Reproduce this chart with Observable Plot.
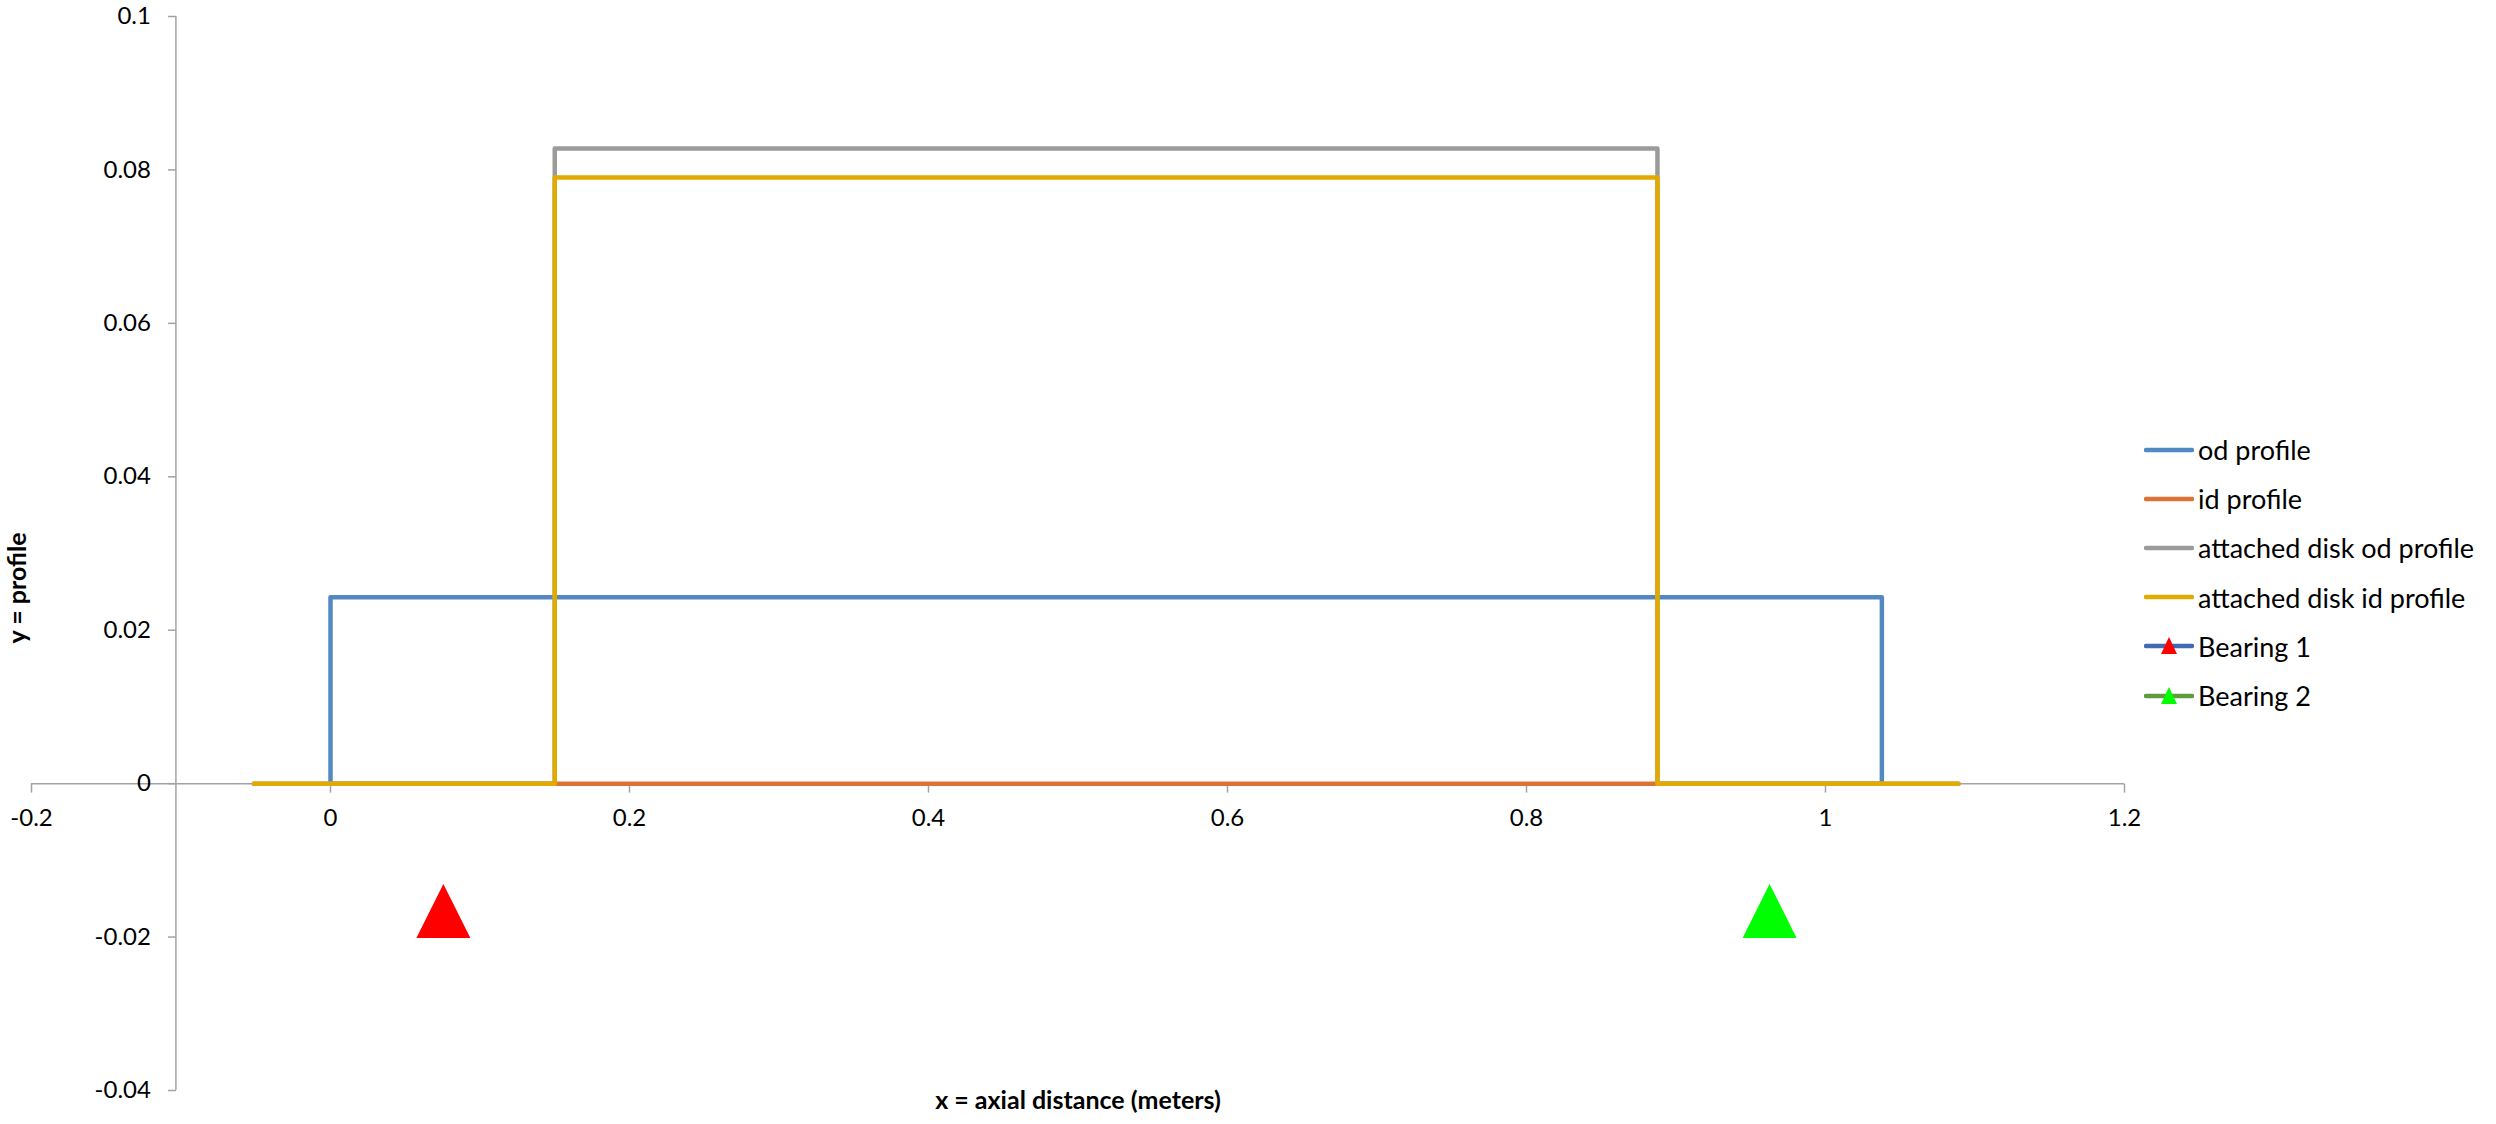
<!DOCTYPE html>
<html>
<head>
<meta charset="utf-8">
<script src="https://cdn.jsdelivr.net/npm/d3@7"></script>
<script src="https://cdn.jsdelivr.net/npm/@observablehq/plot@0.6"></script>
<style>
  body { margin: 0; background: #fff; font-family: Lato, "Open Sans", sans-serif; overflow: hidden; }
  #wrap { position: relative; width: 2496px; height: 1124px; overflow: hidden; }
  #legend { position: absolute; left: 2144px; top: 425px; font-size: 27px; color: #000; font-family: Lato, sans-serif; }
  .row { display: flex; align-items: center; height: 49.2px; white-space: nowrap; }
  .row svg { margin-right: 4px; flex: none; }
</style>
</head>
<body>
<div id="wrap"></div>
<script>
// ---- data ----
const seriesNames = ["od profile", "id profile", "attached disk od profile", "attached disk id profile"];
const seriesColors = ["#5289C3", "#DD7234", "#9B9B9B", "#E2AA00"];

const odProfileX = [0, 0, 1.0377, 1.0377];
const odProfileY = [0, 0.0243, 0.0243, 0];

const idProfileX = [0, 1.0377];
const idProfileY = [0, 0];

const diskOdProfileX = [-0.0513, 0.15, 0.15, 0.8876, 0.8876, 1.089];
const diskOdProfileY = [0, 0, 0.0828, 0.0828, 0, 0];

const diskIdProfileX = [-0.0513, 0.15, 0.15, 0.8876, 0.8876, 1.089];
const diskIdProfileY = [0, 0, 0.079, 0.079, 0, 0];

const bearingNames = ["Bearing 1", "Bearing 2"];
const bearingX = [0.0755, 0.9626];
const bearingY = [-0.0166, -0.0166];
const bearingMarkerColors = ["#FF0000", "#00FF00"];
const bearingLineColors = ["#4269B2", "#5F9A3F"];

const xTicks = [-0.2, 0, 0.2, 0.4, 0.6, 0.8, 1, 1.2];
const yTicks = [-0.04, -0.02, 0, 0.02, 0.04, 0.06, 0.08, 0.1];
const yAxisCrossX = -0.1034;

const xTitle = "x = axial distance (meters)";
const yTitle = "y = profile";

// ---- build tables ----
const profileXs = [odProfileX, idProfileX, diskOdProfileX, diskIdProfileX];
const profileYs = [odProfileY, idProfileY, diskOdProfileY, diskIdProfileY];
const lineData = seriesNames.flatMap((name, k) =>
  profileXs[k].map((x, i) => ({series: name, x, y: profileYs[k][i]})));
const bearings = bearingNames.map((name, i) => ({name, x: bearingX[i], y: bearingY[i], color: bearingMarkerColors[i]}));

// custom symbols
const tickDown = { draw(ctx, size) { const L = Math.sqrt(size / Math.PI); ctx.moveTo(0, 0); ctx.lineTo(0, L); } };
const tickLeft = { draw(ctx, size) { const L = Math.sqrt(size / Math.PI); ctx.moveTo(0, 0); ctx.lineTo(-L, 0); } };
const triangle = { draw(ctx, size) { const h = Math.sqrt(size / Math.PI); ctx.moveTo(0, -h); ctx.lineTo(h, h); ctx.lineTo(-h, h); ctx.closePath(); } };

const axisColor = "#A3A3A3";
const font = "Lato, sans-serif";

const chart = Plot.plot({
  width: 2496,
  height: 1124,
  marginLeft: 31,
  marginRight: 372,
  marginTop: 16,
  marginBottom: 34,
  style: { fontFamily: font, background: "#fff" },
  x: { domain: [-0.2, 1.2], axis: null },
  y: { domain: [-0.04, 0.1], axis: null },
  color: { domain: seriesNames, range: seriesColors },
  marks: [
    Plot.ruleY([0], { x1: xTicks[0], x2: xTicks[xTicks.length - 1], stroke: axisColor, strokeWidth: 1.5 }),
    Plot.ruleX([yAxisCrossX], { y1: yTicks[0], y2: yTicks[yTicks.length - 1], stroke: axisColor, strokeWidth: 1.5 }),
    Plot.dot(xTicks, { x: d => d, y: 0, symbol: tickDown, r: 9, stroke: axisColor, fill: "none", strokeWidth: 1.5 }),
    Plot.dot(yTicks, { x: yAxisCrossX, y: d => d, symbol: tickLeft, r: 8, stroke: axisColor, fill: "none", strokeWidth: 1.5 }),
    Plot.text(xTicks, { x: d => d, y: 0, text: d => String(d), dy: 35, fontSize: 24, fill: "#000" }),
    Plot.text(yTicks, { x: yAxisCrossX, y: d => d, text: d => String(d), textAnchor: "end", dx: -25, fontSize: 24, fill: "#000" }),
    Plot.line(lineData, { x: "x", y: "y", z: "series", stroke: "series", strokeWidth: 4.5, strokeLinejoin: "round", strokeLinecap: "round" }),
    Plot.dot(bearings, { x: "x", y: "y", symbol: triangle, r: 27, fill: "color", stroke: "none" }),
    Plot.text([xTitle], { frameAnchor: "bottom", text: d => d, dy: 18, fontSize: 25, fontWeight: "bold", fill: "#000" }),
    Plot.text([yTitle], { frameAnchor: "left", text: d => d, rotate: -90, dx: -14, dy: 90, fontSize: 25, fontWeight: "bold", fill: "#000" })
  ]
});
document.getElementById("wrap").appendChild(chart);

// ---- legend ----
const legend = document.createElement("div");
legend.id = "legend";
const entries = seriesNames.map((n, i) => ({ name: n, line: seriesColors[i], marker: null }))
  .concat(bearingNames.map((n, i) => ({ name: n, line: bearingLineColors[i], marker: bearingMarkerColors[i] })));
for (const e of entries) {
  const row = document.createElement("div");
  row.className = "row";
  const ns = "http://www.w3.org/2000/svg";
  const sw = document.createElementNS(ns, "svg");
  sw.setAttribute("width", 50); sw.setAttribute("height", 24);
  const ln = document.createElementNS(ns, "line");
  ln.setAttribute("x1", 2); ln.setAttribute("x2", 48); ln.setAttribute("y1", 12); ln.setAttribute("y2", 12);
  ln.setAttribute("stroke", e.line); ln.setAttribute("stroke-width", 4.5); ln.setAttribute("stroke-linecap", "round");
  sw.appendChild(ln);
  if (e.marker) {
    const tri = document.createElementNS(ns, "path");
    tri.setAttribute("d", "M25,3 L33,20 L17,20 Z");
    tri.setAttribute("fill", e.marker);
    sw.appendChild(tri);
  }
  row.appendChild(sw);
  const t = document.createElement("span");
  t.textContent = e.name;
  row.appendChild(t);
  legend.appendChild(row);
}
document.getElementById("wrap").appendChild(legend);
</script>
</body>
</html>
